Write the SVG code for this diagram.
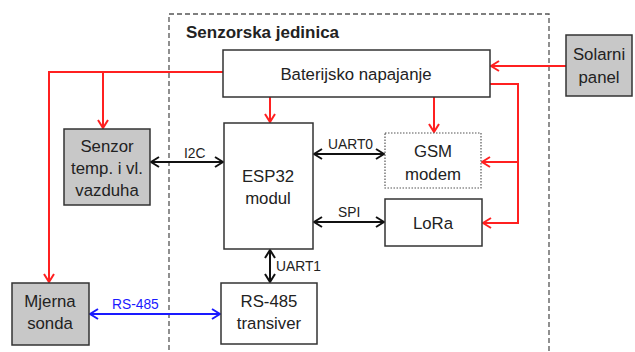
<svg xmlns="http://www.w3.org/2000/svg" width="635" height="352" viewBox="0 0 635 352">
<defs>
<style>
text{font-family:"Liberation Sans",Arial,sans-serif;fill:#222;}
.t{font-size:16.8px;text-anchor:middle;}
.l{font-size:13.8px;}
.box{fill:#fff;stroke:#333;stroke-width:1.5;}
.gray{fill:#c8c8c8;stroke:#333;stroke-width:1.5;}
.dot{fill:#fff;stroke:#555;stroke-width:1.2;stroke-dasharray:1.5 1.5;}
.red{fill:none;stroke:#ff2020;stroke-width:2;}
.blk{fill:none;stroke:#111;stroke-width:2;}
.blu{fill:none;stroke:#1a1aff;stroke-width:2;}
</style>
<marker id="ar" viewBox="0 0 10 12" refX="9" refY="6" markerWidth="10" markerHeight="12" markerUnits="userSpaceOnUse" orient="auto-start-reverse"><polyline points="1,1 9,6 1,11" fill="none" stroke="#ff2020" stroke-width="2"/></marker>
<marker id="ak" viewBox="0 0 10 12" refX="9" refY="6" markerWidth="10" markerHeight="12" markerUnits="userSpaceOnUse" orient="auto-start-reverse"><polyline points="1,1 9,6 1,11" fill="none" stroke="#111" stroke-width="2"/></marker>
<marker id="ab" viewBox="0 0 10 12" refX="9" refY="6" markerWidth="10" markerHeight="12" markerUnits="userSpaceOnUse" orient="auto-start-reverse"><polyline points="1,1 9,6 1,11" fill="none" stroke="#1a1aff" stroke-width="2"/></marker>
</defs>
<rect width="635" height="352" fill="#fff"/>
<g id="container">
<rect x="169" y="14" width="380" height="360" fill="none" stroke="#555" stroke-width="1.3" stroke-dasharray="5 3"/>
<text x="186" y="38" style="font-size:17px;font-weight:bold">Senzorska jedinica</text>
</g>
<g id="connectors">
<polyline class="red" points="223,72 49,72 49,282" marker-end="url(#ar)"/>
<line class="red" x1="103" y1="72" x2="103" y2="128" marker-end="url(#ar)"/>
<line class="red" x1="270" y1="97" x2="270" y2="122" marker-end="url(#ar)"/>
<line class="red" x1="434" y1="97" x2="434" y2="132" marker-end="url(#ar)"/>
<line class="red" x1="566" y1="66" x2="491" y2="66" marker-end="url(#ar)"/>
<polyline class="red" points="490,84 518,84 518,223 483,223" marker-end="url(#ar)"/>
<line class="red" x1="518" y1="162" x2="482" y2="162" marker-end="url(#ar)"/>
<line class="blk" x1="151" y1="162" x2="223" y2="162" marker-start="url(#ak)" marker-end="url(#ak)"/>
<text class="l" x="184" y="158">I2C</text>
<line class="blk" x1="314" y1="154" x2="384" y2="154" marker-start="url(#ak)" marker-end="url(#ak)"/>
<text class="l" x="328" y="149">UART0</text>
<line class="blk" x1="314" y1="222" x2="384" y2="222" marker-start="url(#ak)" marker-end="url(#ak)"/>
<text class="l" x="338" y="217">SPI</text>
<line class="blk" x1="270" y1="250" x2="270" y2="282" marker-start="url(#ak)" marker-end="url(#ak)"/>
<text class="l" x="276" y="271">UART1</text>
<line class="blu" x1="90" y1="314" x2="220" y2="314" marker-start="url(#ab)" marker-end="url(#ab)"/>
<text class="l" x="112" y="309" style="fill:#1a1aff">RS-485</text>
</g>
<g id="baterija">
<rect class="box" x="223" y="50" width="267" height="47"/>
<text class="t" x="356" y="80">Baterijsko napajanje</text>
</g>
<g id="esp32">
<rect class="box" x="224" y="123" width="89" height="126"/>
<text class="t" x="268" y="182">ESP32</text>
<text class="t" x="268" y="204">modul</text>
</g>
<g id="senzor">
<rect class="gray" x="64" y="129" width="86" height="76"/>
<text class="t" x="107" y="152">Senzor</text>
<text class="t" x="107" y="174">temp. i vl.</text>
<text class="t" x="107" y="196">vazduha</text>
</g>
<g id="gsm">
<rect class="dot" x="385" y="133" width="96" height="55"/>
<text class="t" x="433" y="157">GSM</text>
<text class="t" x="433" y="180">modem</text>
</g>
<g id="lora">
<rect class="box" x="385" y="199" width="97" height="47"/>
<text class="t" x="433" y="229">LoRa</text>
</g>
<g id="solarni">
<rect class="gray" x="566" y="35" width="66" height="61"/>
<text class="t" x="599" y="60">Solarni</text>
<text class="t" x="599" y="83">panel</text>
</g>
<g id="mjerna">
<rect class="gray" x="12" y="283" width="77" height="62"/>
<text class="t" x="50" y="307">Mjerna</text>
<text class="t" x="50" y="329">sonda</text>
</g>
<g id="rs485">
<rect class="box" x="221" y="283" width="96" height="61"/>
<text class="t" x="269" y="307">RS-485</text>
<text class="t" x="269" y="329">transiver</text>
</g>
</svg>
